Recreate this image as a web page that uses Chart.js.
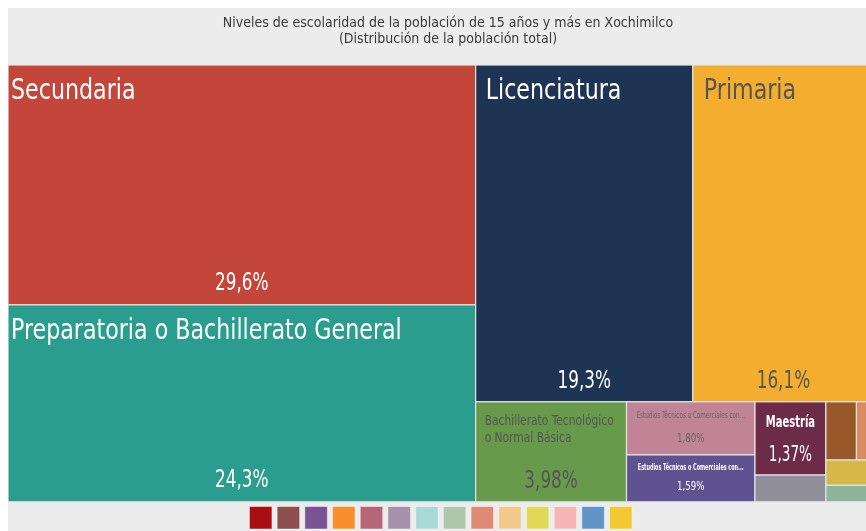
<!DOCTYPE html>
<html>
<head>
<meta charset="utf-8">
<script src="https://cdn.jsdelivr.net/npm/chart.js@4/dist/chart.umd.min.js"></script>
<style>
  html, body { margin: 0; padding: 0; background: #ffffff; overflow: hidden; width: 866px; height: 531px; }
  #wrap { position: absolute; left: 8px; top: 8px; width: 866px; height: 531px; background: #ececec; }
  canvas { display: block; }
</style>
</head>
<body>
<div id="wrap"><canvas id="c" width="866" height="531"></canvas></div>
<script>
// ---------------- data ----------------
const titleLines = [
  'Niveles de escolaridad de la población de 15 años y más en Xochimilco',
  '(Distribución de la población total)'
];
const categories = [
  'Secundaria',
  'Preparatoria o Bachillerato General',
  'Licenciatura',
  'Primaria',
  'Bachillerato Tecnológico o Normal Básica',
  'Estudios Técnicos o Comerciales con primaria terminada',
  'Estudios Técnicos o Comerciales con secundaria terminada',
  'Maestría',
  'Doctorado',
  'No especificado',
  'Especialidad',
  'Preescolar',
  'Estudios Técnicos o Comerciales con preparatoria terminada'
];
const percentages = [29.6, 24.3, 19.3, 16.1, 3.98, 1.80, 1.59, 1.37, 0.50, 0.47, 0.27, 0.32, 0.21];
const tileColors = ['#c4453a', '#2a9d8e', '#1e3455', '#f4ae2f', '#689a4b', '#c08496', '#5e5290',
                    '#6c2b47', '#8f8e9a', '#98582a', '#d98c62', '#d4b848', '#8db59c'];
const legendColors = ['#aa0e12', '#8c4f4d', '#7a5395', '#f58e2b', '#b76579', '#a790a9', '#a9d8d8',
                      '#aec6aa', '#e08a73', '#f1c98b', '#e2d858', '#f5b5b5', '#6193c8', '#f1c930'];

// ---------------- styles (not data) ----------------
const FONT = "'Liberation Sans Narrow', 'DejaVu Sans Condensed', 'Roboto Condensed', 'Roboto', sans-serif";
const TITLE_STYLE = {size: 14, color: '#3a3a3a', lineGap: 16.8, firstY: 15, shiftX: 7};
// per-tile label style; null = no label
const labelStyles = [
  {mode: 'big', nameSize: 28, nameScale: 0.88, valueSize: 24, valueScale: 0.78, color: '#ffffff', padX: 3, nameBase: 34, valueBase: 15},
  {mode: 'big', nameSize: 28, nameScale: 0.88, valueSize: 24, valueScale: 0.78, color: '#ffffff', padX: 3, nameBase: 34, valueBase: 15},
  {mode: 'big', nameSize: 28, nameScale: 0.88, valueSize: 24, valueScale: 0.78, color: '#ffffff', padX: 10, nameBase: 34, valueBase: 14},
  {mode: 'big', nameSize: 28, nameScale: 0.88, valueSize: 24, valueScale: 0.78, color: '#555555', padX: 11, nameBase: 34, valueBase: 14},
  {mode: 'wrap', nameSize: 13.5, nameScale: 0.88, valueSize: 24, valueScale: 0.78, color: '#555555', padX: 9, wrapW: 134, nameBase: 23, lineGap: 17, valueBase: 14},
  {mode: 'small', nameSize: 8.5, nameWeight: 'normal', nameScale: 0.74, fitPad: 5, valueSize: 12, valueScale: 0.8, color: '#666666', nameBase: 16.5, valueBase: 12.5},
  {mode: 'small', nameSize: 8.5, nameWeight: 'bold', nameScale: 0.64, fitPad: 6, valueSize: 12, valueScale: 0.8, color: '#ffffff', nameBase: 15, valueBase: 12},
  {mode: 'small', nameSize: 15, nameWeight: 'bold', nameScale: 0.74, fitPad: 4, valueSize: 21, valueScale: 0.72, color: '#ffffff', nameBase: 25, valueBase: 14},
  null, null, null, null, null
];

function fmtPct(v) {
  const s = v >= 10 ? v.toFixed(1) : v.toFixed(2);
  return s.replace('.', ',') + '%';
}

// d3-style squarified layout (golden ratio)
function squarify(items, x0, y0, x1, y1) {
  const PHI = (1 + Math.sqrt(5)) / 2;
  const out = [];
  const n = items.length;
  let value = items.reduce((s, d) => s + d.v, 0);
  let i0 = 0, i1 = 0;
  while (i0 < n) {
    const dx = x1 - x0, dy = y1 - y0;
    let sum = items[i1++].v, minV = sum, maxV = sum;
    const alpha = Math.max(dy / dx, dx / dy) / (value * PHI);
    let beta = sum * sum * alpha;
    let minRatio = Math.max(maxV / beta, beta / minV);
    for (; i1 < n; ++i1) {
      const nv = items[i1].v;
      sum += nv;
      if (nv < minV) minV = nv;
      if (nv > maxV) maxV = nv;
      beta = sum * sum * alpha;
      const nr = Math.max(maxV / beta, beta / minV);
      if (nr > minRatio) { sum -= nv; break; }
      minRatio = nr;
    }
    const row = items.slice(i0, i1);
    if (dx < dy) {
      const yb = i1 < n ? y0 + dy * sum / value : y1;
      let x = x0;
      row.forEach((d, k) => {
        const w = k === row.length - 1 ? x1 - x : dx * d.v / sum;
        out.push({i: d.i, x0: x, y0: y0, x1: x + w, y1: yb});
        x += w;
      });
      y0 = yb;
    } else {
      const xb = i1 < n ? x0 + dx * sum / value : x1;
      let y = y0;
      row.forEach((d, k) => {
        const h = k === row.length - 1 ? y1 - y : dy * d.v / sum;
        out.push({i: d.i, x0: x0, y0: y, x1: xb, y1: y + h});
        y += h;
      });
      x0 = xb;
    }
    value -= sum; i0 = i1;
  }
  return out;
}

function textW(ctx, t, sx) { return ctx.measureText(t).width * sx; }
function wrapWords(ctx, text, maxW, sx) {
  const words = text.split(' ');
  const lines = [];
  let cur = '';
  words.forEach(w => {
    const t = cur ? cur + ' ' + w : w;
    if (textW(ctx, t, sx) > maxW && cur) { lines.push(cur); cur = w; } else cur = t;
  });
  if (cur) lines.push(cur);
  return lines;
}
function ellipsize(ctx, text, maxW, sx) {
  if (textW(ctx, text, sx) <= maxW) return text;
  const words = text.split(' ');
  let cur = '';
  for (const w of words) {
    const t = cur ? cur + ' ' + w : w;
    if (textW(ctx, t + '...', sx) > maxW) break;
    cur = t;
  }
  return cur + '...';
}
function drawText(ctx, t, x, y, align, sx) {
  ctx.save();
  ctx.translate(x, y);
  ctx.scale(sx, 1);
  ctx.textAlign = align;
  ctx.fillText(t, 0, 0);
  ctx.restore();
}

const titleBand = {
  id: 'titleBand',
  afterDraw(chart) {
    const ctx = chart.ctx;
    ctx.save();
    ctx.fillStyle = TITLE_STYLE.color;
    ctx.font = `normal ${TITLE_STYLE.size}px ${FONT}`;
    ctx.textAlign = 'center';
    ctx.textBaseline = 'middle';
    const cx = chart.width / 2 + TITLE_STYLE.shiftX;
    titleLines.forEach((ln, k) => ctx.fillText(ln, cx, TITLE_STYLE.firstY + k * TITLE_STYLE.lineGap));
    ctx.restore();
  }
};

const treemapPlugin = {
  id: 'treemapCells',
  afterDatasetsDraw(chart) {
    const ctx = chart.ctx;
    const xs = chart.scales.x, ys = chart.scales.y;
    const area = chart.chartArea;
    const W = area.right - area.left, H = area.bottom - area.top;
    const items = percentages.map((v, i) => ({i, v}));
    const rects = squarify(items, 0, 0, W, H);
    ctx.save();
    rects.forEach(r => {
      const left = xs.getPixelForValue(r.x0 / W);
      const right = xs.getPixelForValue(r.x1 / W);
      const top = ys.getPixelForValue(r.y0 / H);
      const bottom = ys.getPixelForValue(r.y1 / H);
      ctx.fillStyle = tileColors[r.i];
      ctx.fillRect(left, top, right - left, bottom - top);
      ctx.strokeStyle = '#e4e4e4';
      ctx.lineWidth = 1.2;
      ctx.strokeRect(left, top, right - left, bottom - top);
      r.px = {left, right, top, bottom};
    });
    rects.forEach(r => {
      const st = labelStyles[r.i];
      if (!st) return;
      const {left, right, top, bottom} = r.px;
      const cx = (left + right) / 2;
      const name = categories[r.i];
      const val = fmtPct(percentages[r.i]);
      ctx.fillStyle = st.color;
      ctx.textBaseline = 'alphabetic';
      if (st.mode === 'big') {
        ctx.font = `normal ${st.nameSize}px ${FONT}`;
        drawText(ctx, name, left + st.padX, top + st.nameBase, 'left', st.nameScale);
      } else if (st.mode === 'wrap') {
        ctx.font = `normal ${st.nameSize}px ${FONT}`;
        const lines = wrapWords(ctx, name, st.wrapW, st.nameScale);
        lines.forEach((ln, k) => drawText(ctx, ln, left + st.padX, top + st.nameBase + k * st.lineGap, 'left', st.nameScale));
      } else {
        ctx.font = `${st.nameWeight} ${st.nameSize}px ${FONT}`;
        drawText(ctx, ellipsize(ctx, name, right - left - 2 * st.fitPad, st.nameScale), cx, top + st.nameBase, 'center', st.nameScale);
      }
      ctx.font = `normal ${st.valueSize}px ${FONT}`;
      drawText(ctx, val, cx, bottom - st.valueBase, 'center', st.valueScale);
    });
    ctx.restore();
  }
};

new Chart(document.getElementById('c'), {
  type: 'scatter',
  data: { datasets: [{ label: 'Escolaridad', data: [] }] },
  options: {
    responsive: false,
    animation: false,
    events: [],
    layout: { padding: { top: 57, left: 0, right: 0, bottom: 0 } },
    scales: {
      x: { type: 'linear', min: 0, max: 1, display: false },
      y: { type: 'linear', min: 0, max: 1, reverse: true, display: false }
    },
    plugins: {
      tooltip: { enabled: false },
      title: { display: false },
      legend: {
        display: true,
        position: 'bottom',
        onClick: null,
        labels: {
          boxWidth: 22.5,
          boxHeight: 22.5,
          padding: 4.7,
          font: { size: 1 },
          generateLabels: () => legendColors.map((c, i) => ({
            text: '',
            fillStyle: c,
            strokeStyle: 'rgba(255,255,255,0.45)',
            lineWidth: 1,
            hidden: false,
            datasetIndex: 0,
            index: i
          }))
        }
      }
    }
  },
  plugins: [treemapPlugin, titleBand]
});
</script>
</body>
</html>
